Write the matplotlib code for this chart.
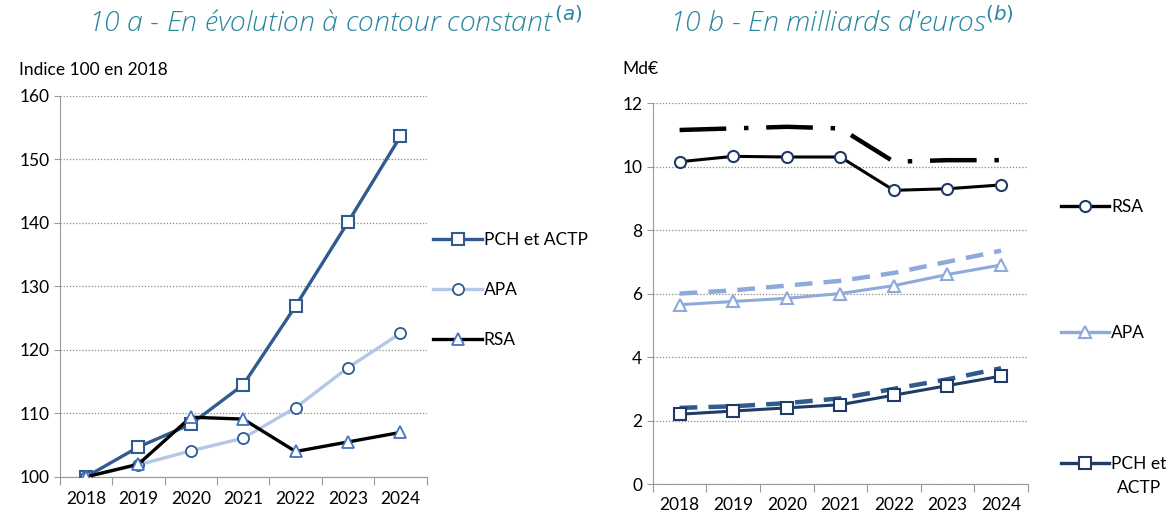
import matplotlib.pyplot as plt
from matplotlib.lines import Line2D

years = ['2018', '2019', '2020', '2021', '2022', '2023', '2024']

# 10 a - indices base 100 en 2018
pch_idx = [100, 104.7, 108.3, 114.5, 126.9, 140.1, 153.6]
apa_idx = [100, 101.9, 104.1, 106.1, 110.9, 117.2, 122.6]
rsa_idx = [100, 102.0, 109.4, 109.1, 104.0, 105.5, 107.0]

# 10 b - milliards d'euros (trait plein) et trait pointillé
rsa_md = [10.15, 10.32, 10.3, 10.3, 9.25, 9.3, 9.42]
rsa_md2 = [11.15, 11.2, 11.25, 11.2, 10.15, 10.2, 10.2]
apa_md = [5.65, 5.75, 5.85, 6.0, 6.25, 6.6, 6.9]
apa_md2 = [6.0, 6.1, 6.25, 6.4, 6.65, 7.0, 7.35]
pch_md = [2.2, 2.3, 2.4, 2.5, 2.8, 3.1, 3.4]
pch_md2 = [2.4, 2.45, 2.55, 2.7, 3.0, 3.3, 3.65]

plt.rcParams['font.family'] = ['Lato', 'DejaVu Sans']

DARK = '#2f5b8f'
NAVY = '#1f3b66'
LIGHT = '#b4c7e7'
LIGHT2 = '#8eaadb'
TEAL = '#2a86a0'
GRID = '#888888'

fig = plt.figure(figsize=(11.72, 5.15), dpi=100)
ax1 = fig.add_axes([0.051, 0.074, 0.313, 0.74])
ax2 = fig.add_axes([0.557, 0.060, 0.320, 0.74])

x = list(range(len(years)))


def style_axis(ax, ymin, ymax, step, pad):
    ax.set_xlim(-0.5, len(years) - 0.5)
    ax.set_ylim(ymin, ymax)
    ax.set_yticks(range(ymin, ymax + 1, step))
    ax.set_xticks([i - 0.5 for i in range(len(years) + 1)])
    ax.set_xticklabels([])
    ax.set_xticks(x, minor=True)
    ax.set_xticklabels(years, minor=True)
    ax.tick_params(axis='x', which='major', length=6, color='#999999')
    ax.tick_params(axis='x', which='minor', length=0, labelsize=12.5, pad=pad)
    ax.tick_params(axis='y', length=4, color='#999999', labelsize=12.5)
    for s in ['top', 'right']:
        ax.spines[s].set_visible(False)
    for s in ['left', 'bottom']:
        ax.spines[s].set_color('#999999')
    ax.grid(axis='y', linestyle=(0, (1, 1.5)), color=GRID, linewidth=0.9)
    ax.set_axisbelow(True)


style_axis(ax1, 100, 160, 10, 10)
style_axis(ax2, 0, 12, 2, 9.5)

# left chart
ax1.plot(x, pch_idx, color=DARK, lw=2.4, marker='s', ms=8.5, mfc='white', mec=DARK, mew=1.5,
         label='PCH et ACTP', zorder=3)
ax1.plot(x, apa_idx, color=LIGHT, lw=2.4, marker='o', ms=8, mfc='white', mec=DARK, mew=1.3,
         label='APA', zorder=3)
ax1.plot(x, rsa_idx, color='black', lw=2.4, marker='^', ms=8, mfc='white', mec='#4472c4', mew=1.3,
         label='RSA', zorder=4)
ax1.legend(loc='center left', bbox_to_anchor=(0.99, 0.49), frameon=False, fontsize=12.5,
           labelspacing=1.95, handlelength=2.8, handletextpad=0.1, borderaxespad=0.2)

ax1.text(-0.11, 1.068, 'Indice 100 en 2018', transform=ax1.transAxes, ha='left',
         va='center', fontsize=12.5)
fig.text(0.286, 0.955, '10 a - En évolution à contour constant$^{\\,(a)}$', color=TEAL, ha='center',
         va='center', fontsize=20.5, style='italic', family='Open Sans', fontweight='light')

# right chart
ax2.plot(x, rsa_md2, color='black', lw=3.2, linestyle=(0, (10.5, 4, 1, 4)), zorder=3)
ax2.plot(x, rsa_md, color='black', lw=2.2, marker='o', ms=8, mfc='white', mec=NAVY, mew=1.5,
         zorder=3)
ax2.plot(x, apa_md2, color=LIGHT2, lw=3.2, linestyle=(0, (4, 2.5)), zorder=3)
ax2.plot(x, apa_md, color=LIGHT2, lw=2.2, marker='^', ms=8, mfc='white', mec=LIGHT2, mew=1.5,
         zorder=3)
ax2.plot(x, pch_md2, color=DARK, lw=3.2, linestyle=(0, (4, 2.5)), zorder=3)
ax2.plot(x, pch_md, color=NAVY, lw=2.2, marker='s', ms=8, mfc='white', mec=NAVY, mew=1.5,
         zorder=3)

handles = [
    Line2D([], [], color='black', lw=2.4, marker='o', ms=8, mfc='white', mec=NAVY, mew=1.5),
    Line2D([], [], color=LIGHT2, lw=2.4, marker='^', ms=8, mfc='white', mec=LIGHT2, mew=1.5),
    Line2D([], [], color=NAVY, lw=2.4, marker='s', ms=8, mfc='white', mec=NAVY, mew=1.5),
]
labels = ['RSA', 'APA', 'PCH et']
ypos = [207, 333, 464]
for h, lab, yp in zip(handles, labels, ypos):
    fig.legend([h], [lab], loc='center left', bbox_to_anchor=(0.905, 1 - yp / 515),
               frameon=False, fontsize=12.5, handlelength=2.8, handletextpad=0.1,
               borderaxespad=0, borderpad=0)
fig.text(0.953, 1 - 488 / 515, 'ACTP', ha='left', va='center', fontsize=12.5)

ax2.text(-0.08, 1.09, 'Md€', transform=ax2.transAxes, ha='left', va='center',
         fontsize=12.5)
fig.text(0.718, 0.955, "10 b - En milliards d'euros$^{(b)}$", color=TEAL, ha='center',
         va='center', fontsize=20.5, style='italic', family='Open Sans', fontweight='light')

fig.savefig('out.png', dpi=100)
